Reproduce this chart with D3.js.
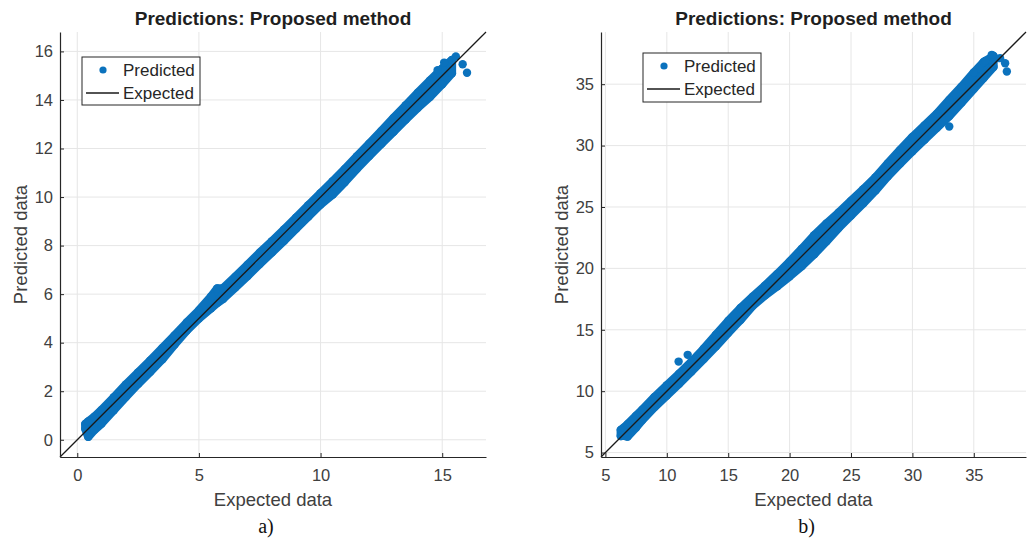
<!DOCTYPE html>
<html><head><meta charset="utf-8">
<script src="https://cdn.jsdelivr.net/npm/d3@7/dist/d3.min.js"></script>
<style>body{margin:0;background:#fff}svg{display:block}</style>
</head><body>
<script>
// ---- data ----
const titleText = "Predictions: Proposed method";
const xLabelText = "Expected data";
const yLabelText = "Predicted data";
const legendLabels = ["Predicted", "Expected"];
const captions = ["a)", "b)"];

// panel a
const aDomain = [-0.71, 16.8];
const aTicksX = [0, 5, 10, 15];
const aTicksY = [0, 2, 4, 6, 8, 10, 12, 14, 16];
const aExpected = [0.33, 0.45, 0.7, 1.0, 1.5, 2.0, 2.5, 3.0, 3.5, 4.0, 4.5, 5.0, 5.5, 5.75, 6.0, 6.5, 7.0, 7.5, 8.0, 8.5, 9.0, 9.5, 10.0, 10.5, 11.0, 11.5, 12.0, 12.5, 13.0, 13.5, 14.0, 14.5, 15.0, 15.4];
const aPredHigh = [0.65, 0.75, 0.95, 1.23, 1.75, 2.28, 2.77, 3.27, 3.78, 4.30, 4.83, 5.33, 5.90, 6.23, 6.25, 6.72, 7.21, 7.71, 8.18, 8.66, 9.16, 9.66, 10.16, 10.65, 11.16, 11.68, 12.20, 12.72, 13.26, 13.78, 14.30, 14.80, 15.30, 15.65];
const aPredLow  = [0.45, 0.12, 0.40, 0.67, 1.22, 1.77, 2.30, 2.80, 3.32, 3.92, 4.50, 5.00, 5.42, 5.63, 5.81, 6.28, 6.75, 7.24, 7.72, 8.20, 8.70, 9.20, 9.69, 10.10, 10.62, 11.17, 11.69, 12.19, 12.69, 13.19, 13.68, 14.13, 14.65, 15.10];
const aOutX = [15.08, 15.56, 15.84, 16.02, 14.81];
const aOutY = [15.54, 15.79, 15.47, 15.12, 15.23];

// panel b
const bDomain = [4.64, 39.25];
const bTicksX = [5, 10, 15, 20, 25, 30, 35];
const bTicksY = [5, 10, 15, 20, 25, 30, 35];
const bExpected = [6.25, 6.5, 6.8, 7.5, 8, 9, 10, 11, 12, 13, 14, 15, 16, 17, 18, 19, 20, 21, 22, 23, 24, 25, 26, 27, 28, 29, 30, 31, 32, 33, 34, 35, 35.8, 36.6];
const bPredHigh = [6.85, 7.03, 7.30, 8.00, 8.50, 9.53, 10.48, 11.42, 12.39, 13.45, 14.60, 15.72, 16.77, 17.70, 18.60, 19.55, 20.55, 21.60, 22.70, 23.65, 24.55, 25.50, 26.45, 27.42, 28.55, 29.65, 30.70, 31.65, 32.60, 33.72, 34.80, 35.95, 36.80, 37.30];
const bPredLow  = [6.35, 6.38, 6.30, 7.05, 7.65, 8.70, 9.65, 10.61, 11.61, 12.61, 13.65, 14.75, 15.80, 16.95, 17.80, 18.55, 19.35, 20.20, 21.15, 22.20, 23.30, 24.30, 25.30, 26.35, 27.50, 28.53, 29.53, 30.50, 31.45, 32.40, 33.50, 34.62, 35.50, 36.40];
const bOutX = [10.96, 11.7, 33.0, 36.46, 35.92, 37.55, 37.69, 37.14];
const bOutY = [12.41, 12.96, 31.55, 37.39, 36.9, 36.7, 36.03, 37.12];

// ---- drawing ----
const W = 1032, H = 540;
const BLUE = "#0b72bd", AX = "#262626", GRID = "#e6e6e6", TXT = "#404040";
const R = 4.2;
const svg = d3.select("body").append("svg").attr("width", W).attr("height", H)
  .style("font-family", "Arial, 'Liberation Sans', Helvetica, sans-serif");

const panels = [
  {x0: 60, x1: 486, y0: 32, y1: 457, dom: aDomain, tx: aTicksX, ty: aTicksY,
   ex: aExpected, hi: aPredHigh, lo: aPredLow, ox: aOutX, oy: aOutY,
   leg: {x: 82, y: 57, w: 118, h: 48}, cap: captions[0]},
  {x0: 601, x1: 1026, y0: 32, y1: 457, dom: bDomain, tx: bTicksX, ty: bTicksY,
   ex: bExpected, hi: bPredHigh, lo: bPredLow, ox: bOutX, oy: bOutY,
   leg: {x: 643, y: 53, w: 118, h: 49}, cap: captions[1]}
];

panels.forEach(p => {
  const x = d3.scaleLinear().domain(p.dom).range([p.x0, p.x1]);
  const y = d3.scaleLinear().domain(p.dom).range([p.y1, p.y0]);
  const g = svg.append("g");

  // grid
  g.append("g").selectAll("line").data(p.tx).join("line")
    .attr("x1", d => x(d)).attr("x2", d => x(d)).attr("y1", p.y0).attr("y2", p.y1)
    .attr("stroke", GRID).attr("stroke-width", 1);
  g.append("g").selectAll("line").data(p.ty).join("line")
    .attr("y1", d => y(d)).attr("y2", d => y(d)).attr("x1", p.x0).attr("x2", p.x1)
    .attr("stroke", GRID).attr("stroke-width", 1);

  // band of predicted points
  const rows = p.ex.map((e, i) => ({e, hi: p.hi[i], lo: p.lo[i]}));
  const area = d3.area().x(d => x(d.e)).y0(d => y(d.lo)).y1(d => y(d.hi));
  g.append("path").datum(rows).attr("d", area)
    .attr("fill", BLUE).attr("stroke", BLUE).attr("stroke-width", 2 * R)
    .attr("stroke-linejoin", "round");
  g.append("g").selectAll("circle").data(rows).join("circle")
    .attr("cx", d => x(d.e)).attr("cy", d => y(d.hi)).attr("r", R).attr("fill", BLUE);
  g.append("g").selectAll("circle").data(rows).join("circle")
    .attr("cx", d => x(d.e)).attr("cy", d => y(d.lo)).attr("r", R).attr("fill", BLUE);
  g.append("g").selectAll("circle").data(p.ox).join("circle")
    .attr("cx", d => x(d)).attr("cy", (d, i) => y(p.oy[i])).attr("r", R).attr("fill", BLUE);

  // expected line y = x
  g.append("line").attr("x1", x(p.dom[0])).attr("y1", y(p.dom[0]))
    .attr("x2", x(p.dom[1])).attr("y2", y(p.dom[1]))
    .attr("stroke", "#1a1a1a").attr("stroke-width", 1.3);

  // axes
  const xa = g.append("g").attr("transform", `translate(0,${p.y1})`)
    .call(d3.axisBottom(x).tickValues(p.tx).tickSizeInner(-4).tickSizeOuter(0).tickPadding(12));
  const ya = g.append("g").attr("transform", `translate(${p.x0},0)`)
    .call(d3.axisLeft(y).tickValues(p.ty).tickSizeInner(-4).tickSizeOuter(0).tickPadding(10));
  [xa, ya].forEach(a => {
    a.select(".domain").attr("stroke", AX).attr("stroke-width", 1.2);
    a.selectAll(".tick line").attr("stroke", AX);
    a.selectAll(".tick text").attr("fill", TXT).style("font-size", "16.5px")
      .style("font-family", "Arial, 'Liberation Sans', sans-serif");
  });
  ya.selectAll(".tick text").attr("x", -7);

  const cx = (p.x0 + p.x1) / 2, cy = (p.y0 + p.y1) / 2;
  // title
  g.append("text").attr("x", cx).attr("y", 25).attr("text-anchor", "middle")
    .attr("font-weight", "bold").attr("font-size", 19).attr("fill", "#1f1f1f").text(titleText);
  // x label
  g.append("text").attr("x", cx).attr("y", 506).attr("text-anchor", "middle")
    .attr("font-size", 18.5).attr("fill", TXT).text(xLabelText);
  // y label
  g.append("text").attr("transform", `translate(${p.x0 - 33.5},${cy}) rotate(-90)`)
    .attr("text-anchor", "middle").attr("font-size", 18.5).attr("fill", TXT).text(yLabelText);
  // caption
  g.append("text").attr("x", cx - 7).attr("y", 533).attr("text-anchor", "middle")
    .attr("font-family", "'Liberation Serif', 'Times New Roman', serif")
    .attr("font-size", 20).attr("fill", "#111").text(p.cap);

  // legend
  const L = p.leg;
  g.append("rect").attr("x", L.x).attr("y", L.y).attr("width", L.w).attr("height", L.h)
    .attr("fill", "#fff").attr("stroke", AX).attr("stroke-width", 1);
  g.append("circle").attr("cx", L.x + 21).attr("cy", L.y + 13).attr("r", 3.6).attr("fill", BLUE);
  g.append("line").attr("x1", L.x + 4).attr("x2", L.x + 37).attr("y1", L.y + 36).attr("y2", L.y + 36)
    .attr("stroke", "#1a1a1a").attr("stroke-width", 1.3);
  legendLabels.forEach((t, i) => {
    g.append("text").attr("x", L.x + 41).attr("y", L.y + 19 + i * 23)
      .attr("font-size", 17).attr("fill", "#262626").text(t);
  });
});
</script>
</body></html>
